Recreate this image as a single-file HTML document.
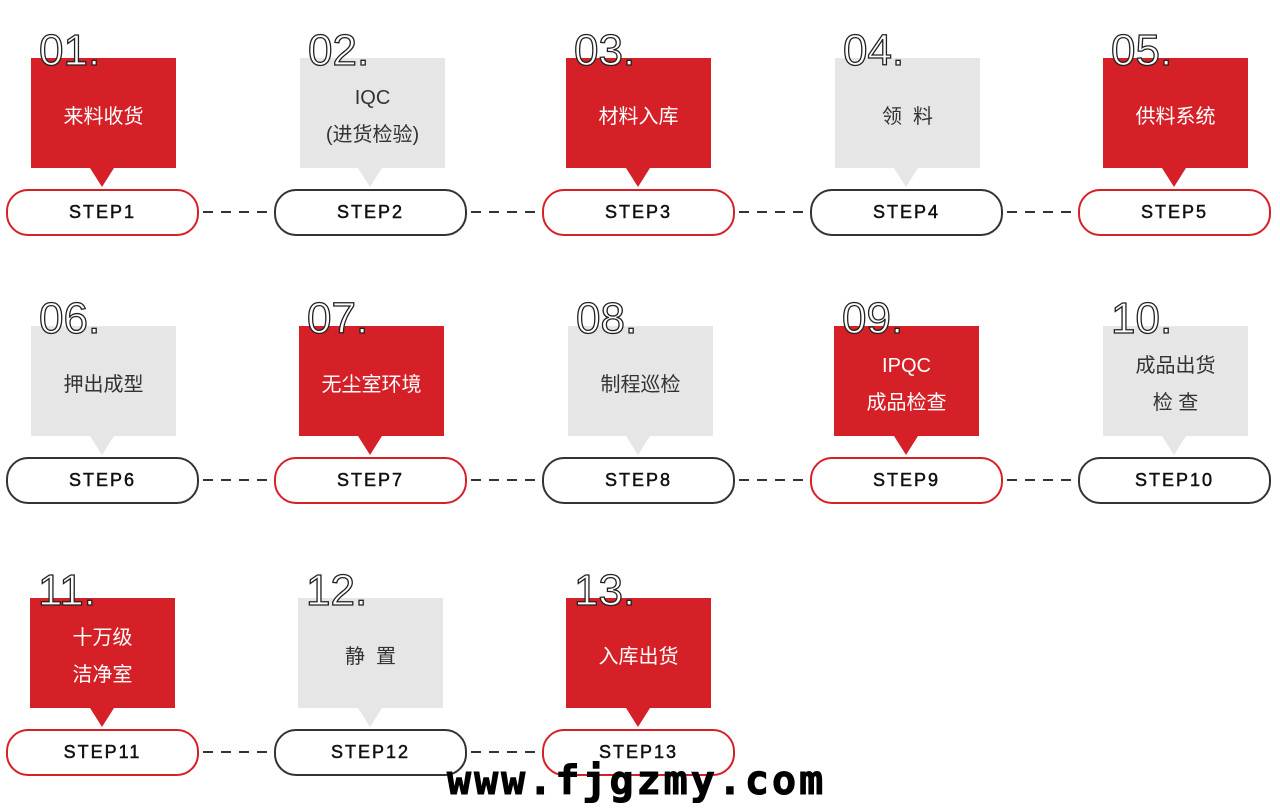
<!DOCTYPE html><html><head><meta charset="utf-8"><style>
body{margin:0;width:1280px;height:810px;background:#fff;position:relative;overflow:hidden;font-family:"Liberation Sans","Noto Sans CJK SC",sans-serif}
.b{position:absolute;width:145px;height:110px;display:flex;flex-direction:column;align-items:center;justify-content:center;font-size:20px;line-height:37px;color:#333;padding-top:8px;box-sizing:border-box}
.r{background:#d62027;color:#fff}.g{background:#e6e6e6}
.t{position:absolute;width:0;height:0;border-left:12px solid transparent;border-right:12px solid transparent;border-top:19px solid}
.p{position:absolute;width:189px;height:43px;border:2px solid #333;border-radius:22px;display:flex;align-items:center;justify-content:center;font-size:18px;letter-spacing:2px;color:#111;background:#fff;-webkit-text-stroke:0.5px #111}
.pr{border-color:#d62027}
.n{position:absolute;font-size:44px;color:#fff;-webkit-text-stroke:1.3px #222;font-family:"Liberation Sans",sans-serif;line-height:44px}
.d{position:absolute;height:2px;width:68px;background:repeating-linear-gradient(90deg,#333 0 10px,transparent 10px 18px)}
.w{position:absolute;left:447px;top:758px;font-family:"DejaVu Sans Mono","Liberation Mono",monospace;font-weight:bold;font-size:40px;color:#000;letter-spacing:3px;-webkit-text-stroke:1px #000}
</style></head><body>
<div class="b r" style="left:31px;top:58px">来料收货</div><div class="t" style="left:90px;top:168px;border-top-color:#d62027"></div>
<div class="b g" style="left:300px;top:58px"><span>IQC</span><span>(进货检验)</span></div><div class="t" style="left:358px;top:168px;border-top-color:#e6e6e6"></div>
<div class="b r" style="left:566px;top:58px">材料入库</div><div class="t" style="left:626px;top:168px;border-top-color:#d62027"></div>
<div class="b g" style="left:835px;top:58px">领&nbsp;&nbsp;料</div><div class="t" style="left:894px;top:168px;border-top-color:#e6e6e6"></div>
<div class="b r" style="left:1103px;top:58px">供料系统</div><div class="t" style="left:1162px;top:168px;border-top-color:#d62027"></div>
<div class="p pr" style="left:6px;top:189px">STEP1</div>
<div class="p" style="left:274px;top:189px">STEP2</div>
<div class="p pr" style="left:542px;top:189px">STEP3</div>
<div class="p" style="left:810px;top:189px">STEP4</div>
<div class="p pr" style="left:1078px;top:189px">STEP5</div>
<div class="d" style="left:203px;top:211px"></div><div class="d" style="left:471px;top:211px"></div><div class="d" style="left:739px;top:211px"></div><div class="d" style="left:1007px;top:211px"></div>
<div class="n" style="left:39px;top:29px">01.</div><div class="n" style="left:308px;top:29px">02.</div><div class="n" style="left:574px;top:29px">03.</div><div class="n" style="left:843px;top:29px">04.</div><div class="n" style="left:1111px;top:29px">05.</div>
<div class="b g" style="left:31px;top:326px">押出成型</div><div class="t" style="left:90px;top:436px;border-top-color:#e6e6e6"></div>
<div class="b r" style="left:299px;top:326px">无尘室环境</div><div class="t" style="left:358px;top:436px;border-top-color:#d62027"></div>
<div class="b g" style="left:568px;top:326px">制程巡检</div><div class="t" style="left:626px;top:436px;border-top-color:#e6e6e6"></div>
<div class="b r" style="left:834px;top:326px"><span>IPQC</span><span>成品检查</span></div><div class="t" style="left:894px;top:436px;border-top-color:#d62027"></div>
<div class="b g" style="left:1103px;top:326px"><span>成品出货</span><span>检 查</span></div><div class="t" style="left:1162px;top:436px;border-top-color:#e6e6e6"></div>
<div class="p" style="left:6px;top:457px">STEP6</div>
<div class="p pr" style="left:274px;top:457px">STEP7</div>
<div class="p" style="left:542px;top:457px">STEP8</div>
<div class="p pr" style="left:810px;top:457px">STEP9</div>
<div class="p" style="left:1078px;top:457px">STEP10</div>
<div class="d" style="left:203px;top:479px"></div><div class="d" style="left:471px;top:479px"></div><div class="d" style="left:739px;top:479px"></div><div class="d" style="left:1007px;top:479px"></div>
<div class="n" style="left:39px;top:297px">06.</div><div class="n" style="left:307px;top:297px">07.</div><div class="n" style="left:576px;top:297px">08.</div><div class="n" style="left:842px;top:297px">09.</div><div class="n" style="left:1111px;top:297px">10.</div>
<div class="b r" style="left:30px;top:598px"><span>十万级</span><span>洁净室</span></div><div class="t" style="left:90px;top:708px;border-top-color:#d62027"></div>
<div class="b g" style="left:298px;top:598px">静&nbsp;&nbsp;置</div><div class="t" style="left:358px;top:708px;border-top-color:#e6e6e6"></div>
<div class="b r" style="left:566px;top:598px">入库出货</div><div class="t" style="left:626px;top:708px;border-top-color:#d62027"></div>
<div class="p pr" style="left:6px;top:729px">STEP11</div>
<div class="p" style="left:274px;top:729px">STEP12</div>
<div class="p pr" style="left:542px;top:729px">STEP13</div>
<div class="d" style="left:203px;top:751px"></div><div class="d" style="left:471px;top:751px"></div>
<div class="n" style="left:38px;top:569px">11.</div><div class="n" style="left:306px;top:569px">12.</div><div class="n" style="left:574px;top:569px">13.</div>
<div class="w">www.fjgzmy.com</div>
</body></html>
